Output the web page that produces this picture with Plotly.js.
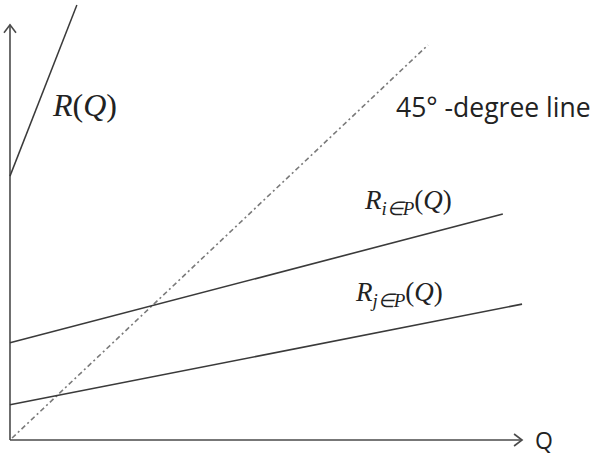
<!DOCTYPE html>
<html>
<head>
<meta charset="utf-8">
<script src="https://cdn.plot.ly/plotly-3.0.1.min.js"></script>
<style>
  html, body { margin: 0; padding: 0; background: #fff; }
  #chart { width: 593px; height: 455px; }
</style>
</head>
<body>
<div id="chart"></div>
<script>
// Reaction functions R against output Q, in diagram units (45° line is y = x)
const qAxis = [0, 12.25];          // horizontal axis extent
const rAxis = [0, 10.51];          // vertical axis extent

const rQ_q = [0, 1.60];
const rQ_r = [6.68, 11.01];

const diag_q = [0.05, 10];
const diag_r = [0.05, 10];

const rIP_q = [0, 11.79];
const rIP_r = [2.46, 5.72];

const rJP_q = [0, 12.25];
const rJP_r = [0.89, 3.44];

const labels = [
  { text: "<i>R</i>(<i>Q</i>)", x: 1.79, y: 8.48, size: 32, font: "Liberation Serif", anchor: "center" },
  { text: "45° -degree line", x: 9.2, y: 8.43, size: 26.5, font: "Open Sans", anchor: "left" },
  { text: "<i>R</i><sub><i>i∈P</i></sub>(<i>Q</i>)", x: 9.52, y: 6.02, size: 27, font: "Liberation Serif", anchor: "center" },
  { text: "<i>R</i><sub><i>j∈P</i></sub>(<i>Q</i>)", x: 9.31, y: 3.69, size: 27, font: "Liberation Serif", anchor: "center" },
  { text: "Q", x: 12.78, y: 0, size: 23, font: "Open Sans", anchor: "center" }
];

const lineColor = "#3a3a3a";
const axisColor = "#4a4a4a";

const traces = [
  { x: [qAxis[0], qAxis[1]], y: [0, 0], mode: "lines", line: { color: axisColor, width: 1.6 }, hoverinfo: "skip" },
  { x: [0, 0], y: [rAxis[0], rAxis[1]], mode: "lines", line: { color: axisColor, width: 1.6 }, hoverinfo: "skip" },
  { x: rQ_q, y: rQ_r, mode: "lines", line: { color: lineColor, width: 1.5 } },
  { x: diag_q, y: diag_r, mode: "lines", line: { color: "#7a7a7a", width: 1.6, dash: "5px,3px,2px,3px" } },
  { x: rIP_q, y: rIP_r, mode: "lines", line: { color: lineColor, width: 1.6 } },
  { x: rJP_q, y: rJP_r, mode: "lines", line: { color: lineColor, width: 1.6 } }
];

// open chevron arrowheads at the ends of both axes
const shapes = [
  {
    type: "path", xref: "x", yref: "y", xsizemode: "pixel", ysizemode: "pixel",
    xanchor: 0, yanchor: rAxis[1],
    path: "M-6,-8 L0,0 L6,-8",
    line: { color: axisColor, width: 1.6 }
  },
  {
    type: "path", xref: "x", yref: "y", xsizemode: "pixel", ysizemode: "pixel",
    xanchor: qAxis[1], yanchor: 0,
    path: "M-8,6 L0,0 L-8,-6",
    line: { color: axisColor, width: 1.6 }
  }
];

const annotations = labels.map(l => ({
  text: l.text, x: l.x, y: l.y, xref: "x", yref: "y",
  xanchor: l.anchor, yanchor: "middle", showarrow: false, borderpad: 0,
  font: { family: l.font, size: l.size, color: "#222" }
}));

const layout = {
  width: 593, height: 455,
  margin: { l: 0, r: 0, t: 0, b: 0 },
  paper_bgcolor: "#fff", plot_bgcolor: "#fff",
  showlegend: false,
  xaxis: { range: [-0.239, 13.947], visible: false, fixedrange: true },
  yaxis: { range: [-0.380, 11.139], visible: false, fixedrange: true },
  shapes: shapes,
  annotations: annotations
};

Plotly.newPlot("chart", traces, layout, { staticPlot: true, displayModeBar: false });
</script>
</body>
</html>
